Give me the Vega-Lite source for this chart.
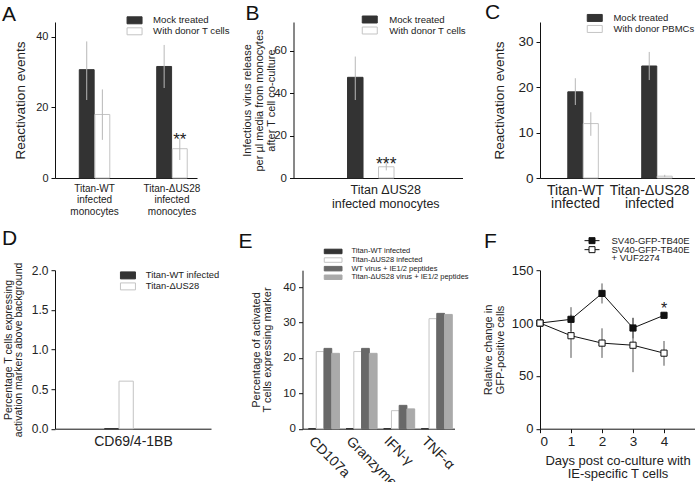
{
  "$schema": "https://vega.github.io/schema/vega-lite/v6.json",
  "background": "white",
  "padding": {"left": 2, "top": 2, "right": 0, "bottom": 0},
  "config": {
    "font": "Liberation Sans",
    "view": {"stroke": null},
    "axis": {"domainColor": "#111", "tickColor": "#111", "labelColor": "#222", "titleColor": "#222", "grid": false, "titleFontWeight": "normal", "domainWidth": 1, "tickWidth": 1},
    "legend": {"labelColor": "#222", "padding": 0, "labelLimit": 0},
    "title": {"fontWeight": "normal", "fontSize": 21, "anchor": "start", "frame": "group", "color": "#111"}
  },
  "datasets": {
    "A": [
      {"group": "Titan-WT infected monocytes", "series": "Mock treated", "value": 30.7, "lo": 22.1, "hi": 38.7, "sig": ""},
      {"group": "Titan-WT infected monocytes", "series": "With donor T cells", "value": 18.0, "lo": 10.8, "hi": 25.1, "sig": ""},
      {"group": "Titan-ΔUS28 infected monocytes", "series": "Mock treated", "value": 31.6, "lo": 25.5, "hi": 37.7, "sig": ""},
      {"group": "Titan-ΔUS28 infected monocytes", "series": "With donor T cells", "value": 8.3, "lo": 5.1, "hi": 11.2, "sig": "**"}
    ],
    "B": [
      {"group": "Titan ΔUS28 infected monocytes", "series": "Mock treated", "value": 47.5, "lo": 36.8, "hi": 57.3, "sig": ""},
      {"group": "Titan ΔUS28 infected monocytes", "series": "With donor T cells", "value": 5.3, "lo": 3.6, "hi": 6.9, "sig": "***"}
    ],
    "C": [
      {"group": "Titan-WT infected", "series": "Mock treated", "value": 19.0, "lo": 16.1, "hi": 22.0},
      {"group": "Titan-WT infected", "series": "With donor PBMCs", "value": 12.0, "lo": 9.3, "hi": 14.5},
      {"group": "Titan-ΔUS28 infected", "series": "Mock treated", "value": 24.7, "lo": 21.6, "hi": 27.8},
      {"group": "Titan-ΔUS28 infected", "series": "With donor PBMCs", "value": 0.4, "lo": 0.2, "hi": 0.7}
    ],
    "D": [
      {"marker": "CD69/4-1BB", "series": "Titan-WT infected", "value": 0},
      {"marker": "CD69/4-1BB", "series": "Titan-ΔUS28", "value": 0.6}
    ],
    "E": [
      {"marker": "CD107a", "series": "Titan-WT infected", "value": 0},
      {"marker": "CD107a", "series": "Titan-ΔUS28 infected", "value": 21.8},
      {"marker": "CD107a", "series": "WT virus + IE1/2 peptides", "value": 22.7},
      {"marker": "CD107a", "series": "Titan-ΔUS28 virus + IE1/2 peptides", "value": 21.3},
      {"marker": "Granzyme", "series": "Titan-WT infected", "value": 0},
      {"marker": "Granzyme", "series": "Titan-ΔUS28 infected", "value": 21.8},
      {"marker": "Granzyme", "series": "WT virus + IE1/2 peptides", "value": 22.7},
      {"marker": "Granzyme", "series": "Titan-ΔUS28 virus + IE1/2 peptides", "value": 21.3},
      {"marker": "IFN-γ", "series": "Titan-WT infected", "value": 0},
      {"marker": "IFN-γ", "series": "Titan-ΔUS28 infected", "value": 5.1},
      {"marker": "IFN-γ", "series": "WT virus + IE1/2 peptides", "value": 6.6},
      {"marker": "IFN-γ", "series": "Titan-ΔUS28 virus + IE1/2 peptides", "value": 5.6},
      {"marker": "TNF-α", "series": "Titan-WT infected", "value": 0},
      {"marker": "TNF-α", "series": "Titan-ΔUS28 infected", "value": 31.1},
      {"marker": "TNF-α", "series": "WT virus + IE1/2 peptides", "value": 32.6},
      {"marker": "TNF-α", "series": "Titan-ΔUS28 virus + IE1/2 peptides", "value": 32.3}
    ],
    "F": [
      {"day": 0, "series": "SV40-GFP-TB40E", "value": 100, "lo": null, "hi": null, "sig": ""},
      {"day": 1, "series": "SV40-GFP-TB40E", "value": 103.5, "lo": 92, "hi": 115, "sig": ""},
      {"day": 2, "series": "SV40-GFP-TB40E", "value": 128, "lo": 118.5, "hi": 137.5, "sig": ""},
      {"day": 3, "series": "SV40-GFP-TB40E", "value": 95.3, "lo": 85.5, "hi": 104.8, "sig": ""},
      {"day": 4, "series": "SV40-GFP-TB40E", "value": 107.3, "lo": 104, "hi": 110.5, "sig": "*"},
      {"day": 0, "series": "SV40-GFP-TB40E + VUF2274", "value": 100, "lo": null, "hi": null, "sig": ""},
      {"day": 1, "series": "SV40-GFP-TB40E + VUF2274", "value": 88, "lo": 67, "hi": 108, "sig": ""},
      {"day": 2, "series": "SV40-GFP-TB40E + VUF2274", "value": 81, "lo": 67, "hi": 95, "sig": ""},
      {"day": 3, "series": "SV40-GFP-TB40E + VUF2274", "value": 79, "lo": 53.5, "hi": 105, "sig": ""},
      {"day": 4, "series": "SV40-GFP-TB40E + VUF2274", "value": 71.5, "lo": 59.6, "hi": 83, "sig": ""}
    ]
  },
  "columns": 3,
  "spacing": {"row": 92.2, "column": 77.5},
  "bounds": "flush",
  "resolve": {
    "scale": {"x": "independent", "y": "independent", "xOffset": "independent", "fill": "independent", "stroke": "independent"},
    "legend": {"fill": "independent", "stroke": "independent"}
  },
  "concat": [
    {
      "width": 161, "height": 156,
      "title": {"text": "A", "dx": -53, "offset": -9},
      "data": {"name": "A"},
      "encoding": {
        "x": {"field": "group", "type": "nominal", "sort": null,
          "scale": {"range": [0, 142], "paddingInner": 0.606, "paddingOuter": 0.22, "align": 0.713},
          "axis": {"title": null, "ticks": false, "labelAngle": 0, "labelFontSize": 10, "labelLineHeight": 11.8, "labelPadding": 5, "labelExpr": "split(datum.label, ' ')"}},
        "xOffset": {"field": "series", "type": "nominal", "sort": null, "scale": {"paddingInner": 0.05, "paddingOuter": 0}}
      },
      "layer": [
        {"mark": {"type": "bar", "strokeWidth": 1},
          "encoding": {
            "y": {"field": "value", "type": "quantitative", "scale": {"domain": [0, 44.2], "nice": false},
              "axis": {"title": "Reactivation events", "titleFontSize": 13.5, "labelFontSize": 11, "values": [0, 10, 20, 30, 40], "tickSize": 4, "labelPadding": 3, "titlePadding": 8}},
            "fill": {"field": "series", "type": "nominal", "scale": {"domain": ["Mock treated", "With donor T cells"], "range": ["#333333", "#ffffff"]},
              "legend": {"title": null, "orient": "none", "legendX": 74.75, "legendY": -6.5, "symbolType": "M-2,-0.93H2V0.93H-2Z", "symbolSize": 56.25, "symbolStrokeWidth": 1, "labelFontSize": 9.6, "labelOffset": 13.75, "rowPadding": -1.7}},
            "stroke": {"field": "series", "type": "nominal", "scale": {"domain": ["Mock treated", "With donor T cells"], "range": ["#333333", "#c4c4c4"]}}
          }},
        {"mark": {"type": "rule", "color": "#b8b8b8", "strokeWidth": 1},
          "encoding": {"y": {"field": "lo", "type": "quantitative"}, "y2": {"field": "hi"}}},
        {"transform": [{"filter": "datum.sig != ''"}],
          "mark": {"type": "text", "fontSize": 17, "baseline": "alphabetic", "dy": 7, "color": "#222"},
          "encoding": {"y": {"field": "hi", "type": "quantitative"}, "text": {"field": "sig"}}}
      ]
    },
    {
      "width": 169, "height": 156,
      "title": {"text": "B", "dx": -48, "offset": -9.5},
      "data": {"name": "B"},
      "encoding": {
        "x": {"field": "group", "type": "nominal", "sort": null,
          "scale": {"range": [0, 169], "paddingInner": 0.241, "paddingOuter": 1, "align": 0.441},
          "axis": {"title": null, "ticks": false, "labelAngle": 0, "labelFontSize": 12.5, "labelLineHeight": 14, "labelPadding": 5, "labelOffset": 15, "labelExpr": "split(replace(datum.label, ' infected', '|infected'), '|')"}},
        "xOffset": {"field": "series", "type": "nominal", "sort": null, "scale": {"paddingInner": 0.5, "paddingOuter": 0}}
      },
      "layer": [
        {"mark": {"type": "bar", "strokeWidth": 1},
          "encoding": {
            "y": {"field": "value", "type": "quantitative", "scale": {"domain": [0, 73.6], "nice": false},
              "axis": {"title": ["Infectious virus release", "per µl media from monocytes", "after T cell co-culture"], "titleFontSize": 11, "titleLineHeight": 12, "labelFontSize": 11.5, "values": [0, 10, 20, 30, 40, 50, 60, 70], "tickSize": 4, "labelPadding": 3, "titlePadding": -3}},
            "fill": {"field": "series", "type": "nominal", "scale": {"domain": ["Mock treated", "With donor T cells"], "range": ["#333333", "#ffffff"]},
              "legend": {"title": null, "orient": "none", "legendX": 71.45, "legendY": -7.3, "symbolType": "M-2,-0.93H2V0.93H-2Z", "symbolSize": 56.25, "symbolStrokeWidth": 1, "labelFontSize": 9.6, "labelOffset": 14.65, "rowPadding": -2.2}},
            "stroke": {"field": "series", "type": "nominal", "scale": {"domain": ["Mock treated", "With donor T cells"], "range": ["#333333", "#c4c4c4"]}}
          }},
        {"mark": {"type": "rule", "color": "#b8b8b8", "strokeWidth": 1},
          "encoding": {"y": {"field": "lo", "type": "quantitative"}, "y2": {"field": "hi"}}},
        {"transform": [{"filter": "datum.sig != ''"}],
          "mark": {"type": "text", "fontSize": 17.5, "baseline": "alphabetic", "dy": 7, "color": "#222"},
          "encoding": {"y": {"field": "hi", "type": "quantitative"}, "text": {"field": "sig"}}}
      ]
    },
    {
      "width": 155, "height": 156,
      "title": {"text": "C", "dx": -55, "offset": -10},
      "data": {"name": "C"},
      "encoding": {
        "x": {"field": "group", "type": "nominal", "sort": null,
          "scale": {"range": [0, 155], "paddingInner": 0.587, "paddingOuter": 0.342, "align": 0.55},
          "axis": {"title": null, "ticks": false, "labelAngle": 0, "labelFontSize": 14, "labelLineHeight": 13.5, "labelPadding": 5, "labelOffset": -7.5, "labelExpr": "split(replace(datum.label, ' infected', '|infected'), '|')"}},
        "xOffset": {"field": "series", "type": "nominal", "sort": null, "scale": {"paddingInner": 0.03, "paddingOuter": 0}}
      },
      "layer": [
        {"mark": {"type": "bar", "strokeWidth": 1},
          "encoding": {
            "y": {"field": "value", "type": "quantitative", "scale": {"domain": [0, 34.4], "nice": false},
              "axis": {"title": "Reactivation events", "titleFontSize": 13.5, "labelFontSize": 13.5, "values": [0, 10, 20, 30], "tickSize": 4, "labelPadding": 3, "titlePadding": 11}},
            "fill": {"field": "series", "type": "nominal", "scale": {"domain": ["Mock treated", "With donor PBMCs"], "range": ["#333333", "#ffffff"]},
              "legend": {"title": null, "orient": "none", "legendX": 50, "legendY": -8.8, "symbolType": "M-2,-0.93H2V0.93H-2Z", "symbolSize": 56.25, "symbolStrokeWidth": 1, "labelFontSize": 9.5, "labelOffset": 13.95, "rowPadding": -2.5}},
            "stroke": {"field": "series", "type": "nominal", "scale": {"domain": ["Mock treated", "With donor PBMCs"], "range": ["#333333", "#c4c4c4"]}}
          }},
        {"mark": {"type": "rule", "color": "#b8b8b8", "strokeWidth": 1},
          "encoding": {"y": {"field": "lo", "type": "quantitative"}, "y2": {"field": "hi"}}}
      ]
    },
    {
      "width": 161, "height": 158.5,
      "title": {"text": "D", "dx": -53, "offset": 13},
      "data": {"name": "D"},
      "encoding": {
        "x": {"field": "marker", "type": "nominal", "sort": null,
          "scale": {"range": [0, 156], "paddingInner": 0.547, "paddingOuter": 1, "align": 0.389},
          "axis": {"title": null, "ticks": false, "labelAngle": 0, "labelFontSize": 14, "labelPadding": 6, "labelOffset": 14.6}},
        "xOffset": {"field": "series", "type": "nominal", "sort": null, "scale": {"paddingInner": 0.02, "paddingOuter": 0}}
      },
      "layer": [
        {"mark": {"type": "bar", "strokeWidth": 1},
          "encoding": {
            "y": {"field": "value", "type": "quantitative", "scale": {"domain": [0, 2], "nice": false},
              "axis": {"title": ["Percentage T cells expressing", "activation markers above background"], "titleFontSize": 10.5, "titleLineHeight": 10, "labelFontSize": 12, "values": [0, 0.5, 1, 1.5, 2], "tickSize": 4, "labelPadding": 3, "titlePadding": 8}},
            "fill": {"field": "series", "type": "nominal", "scale": {"domain": ["Titan-WT infected", "Titan-ΔUS28"], "range": ["#333333", "#ffffff"]},
              "legend": {"title": null, "orient": "none", "legendX": 68.25, "legendY": 0.5, "symbolType": "M-2,-0.93H2V0.93H-2Z", "symbolSize": 56.25, "symbolStrokeWidth": 1, "labelFontSize": 9.4, "labelOffset": 13.15, "rowPadding": -2.8}},
            "stroke": {"field": "series", "type": "nominal", "scale": {"domain": ["Titan-WT infected", "Titan-ΔUS28"], "range": ["#333333", "#c4c4c4"]}}
          }}
      ]
    },
    {
      "width": 161, "height": 158.5,
      "title": {"text": "E", "dx": -55, "offset": -4.25},
      "data": {"name": "E"},
      "encoding": {
        "x": {"field": "marker", "type": "nominal", "sort": null,
          "scale": {"range": [9, 161], "paddingInner": 0.1755, "paddingOuter": 0.109, "align": 0.73},
          "axis": {"title": null, "ticks": false, "labelAngle": 45, "labelFontSize": 14, "labelPadding": 5, "labelOffset": -8}},
        "xOffset": {"field": "series", "type": "nominal", "sort": null, "scale": {"paddingInner": 0, "paddingOuter": 0}}
      },
      "layer": [
        {"mark": {"type": "bar", "strokeWidth": 1},
          "encoding": {
            "y": {"field": "value", "type": "quantitative", "scale": {"domain": [0, 44.8], "nice": false},
              "axis": {"offset": -9, "title": ["Percentage of activated", "T cells expressing marker"], "titleFontSize": 11, "titleLineHeight": 11.5, "labelFontSize": 11.5, "values": [0, 10, 20, 30, 40], "tickSize": 4, "labelPadding": 3, "titlePadding": 10}},
            "fill": {"field": "series", "type": "nominal", "scale": {"domain": ["Titan-WT infected", "Titan-ΔUS28 infected", "WT virus + IE1/2 peptides", "Titan-ΔUS28 virus + IE1/2 peptides"], "range": ["#333333", "#ffffff", "#686868", "#aaaaaa"]},
              "legend": {"title": null, "orient": "none", "legendX": 35.9, "legendY": -22.5, "symbolType": "M-3,-0.76H3V0.76H-3Z", "symbolSize": 35, "symbolStrokeWidth": 1, "labelFontSize": 7.5, "labelOffset": 14.6, "rowPadding": -0.4}},
            "stroke": {"field": "series", "type": "nominal", "scale": {"domain": ["Titan-WT infected", "Titan-ΔUS28 infected", "WT virus + IE1/2 peptides", "Titan-ΔUS28 virus + IE1/2 peptides"], "range": ["#333333", "#c4c4c4", "#686868", "#aaaaaa"]}}
          }}
      ]
    },
    {
      "width": 155, "height": 158.5,
      "title": {"text": "F", "dx": -56, "offset": -12.75},
      "data": {"name": "F"},
      "encoding": {
        "x": {"field": "day", "type": "quantitative", "scale": {"domain": [0, 5], "nice": false},
          "axis": {"title": ["Days post co-culture with", "IE-specific T cells"], "titleFontSize": 13, "titleLineHeight": 13.5, "labelFontSize": 13.5, "values": [0, 1, 2, 3, 4], "tickSize": 4, "labelPadding": 2, "titlePadding": 6}}
      },
      "layer": [
        {"transform": [{"filter": "datum.lo != null"}],
          "mark": {"type": "rule", "color": "#555555", "strokeWidth": 1},
          "encoding": {"y": {"field": "lo", "type": "quantitative"}, "y2": {"field": "hi"}}},
        {"mark": {"type": "line", "color": "#111111", "strokeWidth": 1},
          "encoding": {
            "y": {"field": "value", "type": "quantitative", "scale": {"domain": [0, 150], "nice": false},
              "axis": {"title": ["Relative change in", "GFP-positive cells"], "titleFontSize": 11, "titleLineHeight": 12, "labelFontSize": 13, "values": [0, 25, 50, 75, 100, 125, 150], "tickSize": 4, "labelPadding": 3, "titlePadding": 6}},
            "detail": {"field": "series", "type": "nominal"}
          }},
        {"mark": {"type": "point", "shape": "square", "size": 38, "filled": true, "stroke": "#111111", "strokeWidth": 1, "opacity": 1},
          "encoding": {
            "y": {"field": "value", "type": "quantitative"},
            "fill": {"field": "series", "type": "nominal", "scale": {"domain": ["SV40-GFP-TB40E", "SV40-GFP-TB40E + VUF2274"], "range": ["#111111", "#ffffff"]},
              "legend": {"title": null, "orient": "none", "legendX": 47.25, "legendY": -31, "symbolType": "M-2,-0.88H-0.8M0.8,-0.88H2M-0.8,-1.68H0.8V-0.08H-0.8Z", "symbolSize": 56.25, "symbolStrokeWidth": 1, "symbolStrokeColor": "#111111", "labelFontSize": 9.5, "labelOffset": 14.75, "labelBaseline": "alphabetic", "rowPadding": -2, "labelExpr": "split(replace(datum.label, ' + ', '|+ '), '|')",
                "encoding": {"labels": {"lineHeight": {"value": 8.5}}}}}
          }},
        {"transform": [{"filter": "datum.sig != ''"}],
          "mark": {"type": "text", "fontSize": 16, "baseline": "alphabetic", "dy": 2, "color": "#222"},
          "encoding": {"y": {"field": "hi", "type": "quantitative"}, "text": {"field": "sig"}}}
      ]
    }
  ]
}
